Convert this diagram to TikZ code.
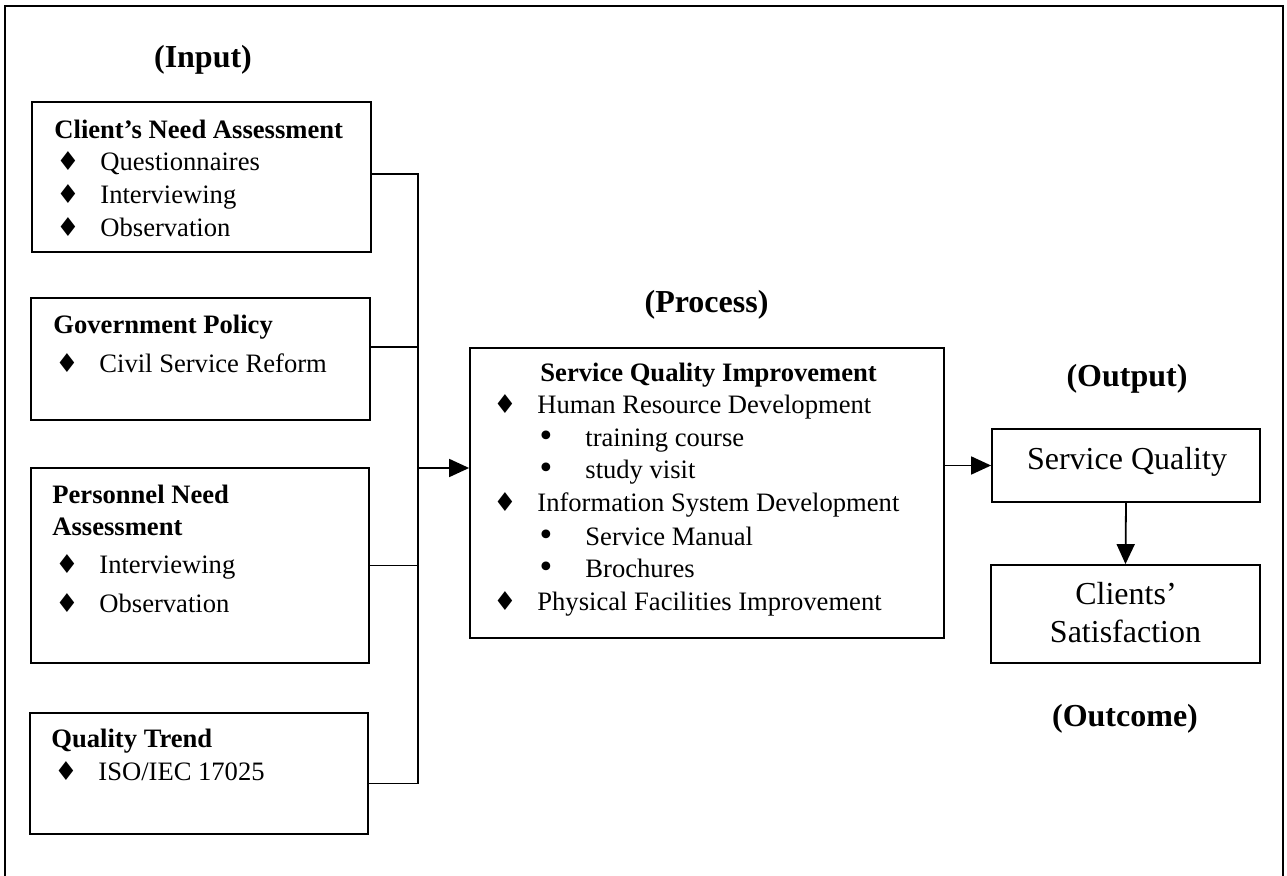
\documentclass[tikz,border=0pt]{standalone}
\usepackage{fontspec}
\setmainfont{Liberation Serif}
\newfontfamily\symfont{DejaVu Sans}
\usetikzlibrary{arrows.meta}

\newcommand{\dia}{\makebox[22pt][l]{\symfont\fontsize{13}{13}\selectfont ♦}}
\newcommand{\bul}{\makebox[24pt][l]{\symfont\fontsize{15}{15}\selectfont •}}

\tikzset{
  box/.style={draw, line width=0.9pt, inner sep=0pt},
  txt/.style={anchor=base west, inner sep=0pt, font=\fontsize{13.3}{16}\selectfont},
  big/.style={anchor=base, inner sep=0pt, font=\fontsize{16}{19}\selectfont},
  head/.style={anchor=base, inner sep=0pt, font=\bfseries\fontsize{16}{19}\selectfont},
  arr/.style={-{Triangle[length=10pt,width=9pt]}, line width=0.9pt}
}

\begin{document}
\begin{tikzpicture}[x=0.5pt,y=-0.5pt]
    \useasboundingbox (0,0) rectangle (1287,876);

    % frame
    \draw [line width=0.9pt] (5,876) -- (5,6) -- (1283,6) -- (1283,876);

    % headings
    \node [head] (input) at (203,68) {(Input)};
    \node [head] (process) at (706.5,313) {(Process)};
    \node [head] (output) at (1127,387) {(Output)};
    \node [head] (outcome) at (1125,727) {(Outcome)};

    % input boxes
    \node [box, minimum width=169.5pt, minimum height=75pt] (cna) at (201.5,177) {};
    \node [box, minimum width=169.5pt, minimum height=61pt] (gov) at (200.5,359) {};
    \node [box, minimum width=169pt, minimum height=97.5pt] (pna) at (200,565.5) {};
    \node [box, minimum width=169pt, minimum height=60.5pt] (qt) at (199,773.5) {};

    % process and output boxes
    \node [box, minimum width=237pt, minimum height=145pt] (proc) at (707,493) {};
    \node [box, minimum width=134pt, minimum height=36.5pt] (sq) at (1126,465.5) {};
    \node [box, minimum width=134.5pt, minimum height=49pt] (cs) at (1125.5,614) {};

    % input box labels
    \node [txt, font=\bfseries\fontsize{13.3}{16}\selectfont] (cna1) at (54,139) {Client's Need Assessment};
    \node [txt] (cna2) at (56,171) {\dia Questionnaires};
    \node [txt] (cna3) at (56,204) {\dia Interviewing};
    \node [txt] (cna4) at (56,237) {\dia Observation};

    \node [txt, font=\bfseries\fontsize{13.3}{16}\selectfont] (gov1) at (53,334) {Government Policy};
    \node [txt] (gov2) at (55,373) {\dia Civil Service Reform};

    \node [txt, font=\bfseries\fontsize{13.3}{16}\selectfont] (pna1) at (52,504) {Personnel Need};
    \node [txt, font=\bfseries\fontsize{13.3}{16}\selectfont] (pna2) at (52,536) {Assessment};
    \node [txt] (pna3) at (55,574) {\dia Interviewing};
    \node [txt] (pna4) at (55,613) {\dia Observation};

    \node [txt, font=\bfseries\fontsize{13.3}{16}\selectfont] (qt1) at (51,748) {Quality Trend};
    \node [txt] (qt2) at (54,781) {\dia ISO/IEC 17025};

    % process box labels
    \node [txt, font=\bfseries\fontsize{13.3}{16}\selectfont] (proc1) at (540,382) {Service Quality Improvement};
    \node [txt] (proc2) at (493,414) {\dia Human Resource Development};
    \node [txt] (proc3) at (537,447) {\bul training course};
    \node [txt] (proc4) at (537,479) {\bul study visit};
    \node [txt] (proc5) at (493,512) {\dia Information System Development};
    \node [txt] (proc6) at (537,546) {\bul Service Manual};
    \node [txt] (proc7) at (537,578) {\bul Brochures};
    \node [txt] (proc8) at (493,611) {\dia Physical Facilities Improvement};

    % output box labels
    \node [big] (sq1) at (1127,470) {Service Quality};
    \node [big] (cs1) at (1126,605) {Clients'};
    \node [big] (cs2) at (1125.5,643) {Satisfaction};

    % connectors
    \coordinate (bus) at (418,468);
    \draw [line width=0.9pt] ([yshift=1.5pt]cna.east) -| (bus);
    \draw [line width=0.9pt] ([yshift=6pt]gov.east) -| (bus);
    \draw [line width=0.9pt] (pna.east) -| (bus);
    \draw [line width=0.9pt] ([yshift=-5pt]qt.east) -| (bus);
    \draw [arr] (bus) -- (bus -| proc.west);
    \draw [arr] (proc.east |- sq.west) -- (sq.west);
    \draw [arr] (sq.south) -- (cs.north);

\end{tikzpicture}
\end{document}
